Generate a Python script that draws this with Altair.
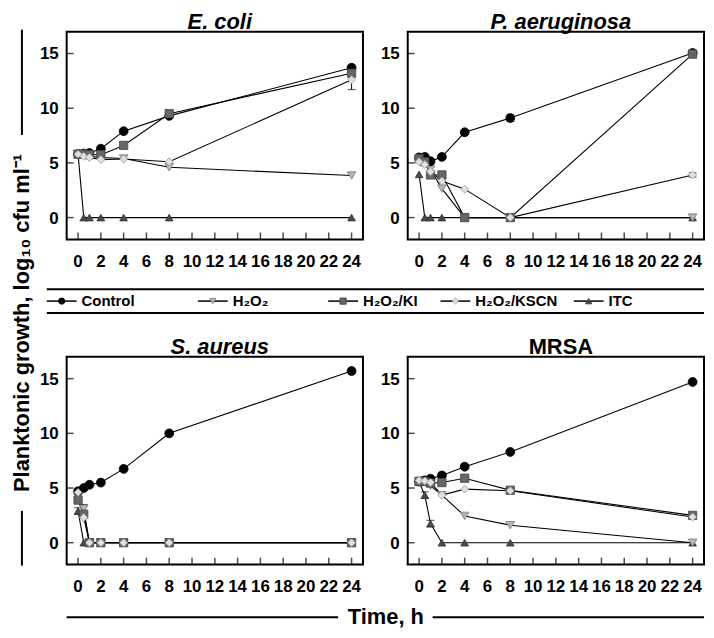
import altair as alt
import pandas as pd

# ---------------- data ----------------
TIMES = [0, 0.5, 1, 2, 4, 8, 24]

ECOLI_CONTROL = [5.8, 5.85, 5.9, 6.3, 7.9, 9.3, 13.7]
ECOLI_H2O2 = [5.8, 5.7, 5.6, 5.5, 5.4, 4.6, 3.85]
ECOLI_KI = [5.8, 5.8, 5.75, 5.75, 6.6, 9.5, 13.2]
ECOLI_KSCN = [5.8, 5.6, 5.5, 5.3, 5.35, 5.1, 12.6]
ECOLI_ITC = [5.8, 0, 0, 0, 0, 0, 0]

PAER_CONTROL = [5.5, 5.55, 5.15, 5.55, 7.8, 9.1, 15.05]
PAER_H2O2 = [5.3, 5.0, 4.4, 2.65, 0, 0, 0]
PAER_KI = [5.4, 5.1, 3.9, 3.9, 0, 0, 14.95]
PAER_KSCN = [5.1, 4.85, 4.2, 3.35, 2.6, 0, 3.9]
PAER_ITC = [3.95, 0, 0, 0, 0, 0, 0]

SAUR_CONTROL = [4.7, 5.0, 5.3, 5.5, 6.75, 10.0, 15.7]
SAUR_H2O2 = [4.2, 3.1, 0, 0, 0, 0, 0]
SAUR_KI = [3.9, 2.6, 0, 0, 0, 0, 0]
SAUR_KSCN = [4.6, 2.3, 0, 0, 0, 0, 0]
SAUR_ITC = [2.9, 0, 0, 0, 0, 0, 0]

MRSA_CONTROL = [5.6, 5.7, 5.85, 6.15, 6.95, 8.3, 14.7]
MRSA_H2O2 = [5.6, 5.7, 5.2, 4.35, 2.45, 1.6, 0]
MRSA_KI = [5.6, 5.6, 5.45, 5.5, 5.9, 4.8, 2.5]
MRSA_KSCN = [5.7, 5.65, 5.5, 4.35, 4.9, 4.75, 2.35]
MRSA_ITC = [5.55, 4.35, 1.75, 0, 0, 0, 0]

# (panel, series, time, error)
ERRORS = [
    ("E. coli", "H2O2/KSCN", 24, 0.9),
    ("E. coli", "H2O2/KI", 24, 0.3),
    ("P. aeruginosa", "Control", 24, 0.25),
    ("P. aeruginosa", "Control", 8, 0.3),
    ("P. aeruginosa", "H2O2/KI", 2, 0.3),
    ("P. aeruginosa", "H2O2/KSCN", 24, 0.2),
    ("S. aureus", "ITC", 0, 0.3),
    ("S. aureus", "H2O2", 0, 0.3),
    ("S. aureus", "H2O2", 0.5, 0.4),
    ("MRSA", "ITC", 0.5, 0.3),
    ("MRSA", "ITC", 1, 0.3),
]

SERIES = ["Control", "H2O2", "H2O2/KI", "H2O2/KSCN", "ITC"]
LABELS = ["Control", "H\u2082O\u2082", "H\u2082O\u2082/KI", "H\u2082O\u2082/KSCN", "ITC"]
DRAW_ORDER = ["ITC", "H2O2", "Control", "H2O2/KI", "H2O2/KSCN"]

PANELS = [
    ("E. coli", True, [ECOLI_CONTROL, ECOLI_H2O2, ECOLI_KI, ECOLI_KSCN, ECOLI_ITC]),
    ("P. aeruginosa", True, [PAER_CONTROL, PAER_H2O2, PAER_KI, PAER_KSCN, PAER_ITC]),
    ("S. aureus", True, [SAUR_CONTROL, SAUR_H2O2, SAUR_KI, SAUR_KSCN, SAUR_ITC]),
    ("MRSA", False, [MRSA_CONTROL, MRSA_H2O2, MRSA_KI, MRSA_KSCN, MRSA_ITC]),
]

XTICKS = list(range(0, 25, 2))
YTICKS = [0, 5, 10, 15]
Y_TITLE = "Planktonic growth, log\u2081\u2080 cfu ml\u207b\u00b9"
X_TITLE = "Time, h"

# ---------------- styles ----------------
FONT = "Liberation Sans"
W, H = 298, 209
GAP = 45
LEG_H = 118
XT_H = 53
SHAPES = ["circle", "triangle-down", "square", "diamond", "triangle-up"]
FILLS = ["#000000", "#b4b4b4", "#666666", "#e0e0e0", "#4a4a4a"]
STROKES = ["#000000", "#7a7a7a", "#444444", "#9a9a9a", "#333333"]
SIZES = [80, 60, 60, 85, 60]

shape_scale = alt.Scale(domain=SERIES, range=SHAPES)
fill_scale = alt.Scale(domain=SERIES, range=FILLS)
stroke_scale = alt.Scale(domain=SERIES, range=STROKES)
size_scale = alt.Scale(domain=SERIES, range=SIZES)

xs = alt.Scale(domain=[-1, 25], nice=False, zero=False)
ys = alt.Scale(domain=[-2, 17], nice=False, zero=False)
one = pd.DataFrame({"a": [0]})
noview = alt.ViewBackground(stroke="transparent")


def X(f):
    return alt.X(f, scale=xs, axis=None)


def Y(f):
    return alt.Y(f, scale=ys, axis=None)


def panel(title, italic, series_values, extra=()):
    rows = []
    for s in DRAW_ORDER:
        vals = series_values[SERIES.index(s)]
        for t, v in zip(TIMES, vals):
            rows.append({"series": s, "t": t, "v": v})
    df = pd.DataFrame(rows)

    erows = []
    for (p, s, t, e) in ERRORS:
        if p == title:
            v = series_values[SERIES.index(s)][TIMES.index(t)]
            erows.append({"series": s, "t": t, "lo": v - e, "hi": v + e})
    edf = pd.DataFrame(erows, columns=["series", "t", "lo", "hi"])

    lines = alt.Chart(df).mark_line(color="black", strokeWidth=1.1).encode(
        x=X("t:Q"), y=Y("v:Q"), detail="series:N", order="t:Q")

    err_rule = alt.Chart(edf).mark_rule(color="black", strokeWidth=1).encode(
        x=X("t:Q"), y=Y("lo:Q"), y2="hi:Q")
    cap_lo = alt.Chart(edf).mark_tick(orient="horizontal", color="black",
                                      thickness=1, size=8).encode(x=X("t:Q"), y=Y("lo:Q"))
    cap_hi = alt.Chart(edf).mark_tick(orient="horizontal", color="black",
                                      thickness=1, size=8).encode(x=X("t:Q"), y=Y("hi:Q"))

    points = alt.Chart(df).mark_point(filled=True, opacity=1, strokeWidth=0.8).encode(
        x=X("t:Q"), y=Y("v:Q"),
        shape=alt.Shape("series:N", scale=shape_scale, legend=None),
        fill=alt.Fill("series:N", scale=fill_scale, legend=None),
        stroke=alt.Stroke("series:N", scale=stroke_scale, legend=None),
        size=alt.Size("series:O", scale=size_scale, legend=None),
    )

    xdf = pd.DataFrame({"t": XTICKS, "lab": [str(v) for v in XTICKS]})
    ydf = pd.DataFrame({"v": YTICKS, "lab": [str(v) for v in YTICKS]})
    xt = alt.Chart(xdf).mark_tick(orient="vertical", color="black",
                                  thickness=1.5, size=7).encode(
        x=X("t:Q"), y=alt.value(H - 3.5))
    yt = alt.Chart(ydf).mark_tick(orient="horizontal", color="black",
                                  thickness=1.5, size=7).encode(
        y=Y("v:Q"), x=alt.value(3.5))
    xl = alt.Chart(xdf).mark_text(font=FONT, fontSize=17, fontWeight="bold",
                                  color="black", baseline="alphabetic",
                                  align="center").encode(
        x=X("t:Q"), y=alt.value(H + 28), text="lab:N")
    yl = alt.Chart(ydf).mark_text(font=FONT, fontSize=17, fontWeight="bold",
                                  color="black", baseline="alphabetic",
                                  align="right", dy=6).encode(
        y=Y("v:Q"), x=alt.value(-8), text="lab:N")
    tt = alt.Chart(pd.DataFrame({"title": [title]})).mark_text(
        font=FONT, fontSize=22, fontWeight="bold",
        fontStyle="italic" if italic else "normal", color="black",
        baseline="alphabetic", align="center").encode(
        text="title:N", x=alt.value(W / 2 + 5), y=alt.value(-3))

    return alt.layer(lines, err_rule, cap_lo, cap_hi, points, xt, yt, xl, yl, tt,
                     *extra).properties(width=W, height=H)


# ---------------- y title (drawn in the first panel's frame of reference) ----------------
YT_X = -45
YT_CENTER = 293
ytitle_layers = (
    alt.Chart(pd.DataFrame({"label": [Y_TITLE]})).mark_text(
        font=FONT, fontSize=22, fontWeight="bold", color="black", angle=270,
        baseline="middle", align="center").encode(
        text="label:N", x=alt.value(YT_X), y=alt.value(YT_CENTER)),
    alt.Chart(one).mark_rule(color="black", strokeWidth=2).encode(
        x=alt.value(YT_X), y=alt.value(-2), y2=alt.value(104)),
    alt.Chart(one).mark_rule(color="black", strokeWidth=2).encode(
        x=alt.value(YT_X), y=alt.value(482), y2=alt.value(2 * H + LEG_H + 1)),
)

# ---------------- legend strip ----------------
LEG_MARKER_X = [60, 212, 343, 456, 590]  # image x of the legend symbols
ORIGIN_X = 65
leg_df = pd.DataFrame({
    "series": SERIES,
    "label": LABELS,
    "mx": [v - ORIGIN_X for v in LEG_MARKER_X],
})
leg_df["x1"] = leg_df["mx"] - 15
leg_df["x2"] = leg_df["mx"] + 15
leg_df["tx"] = leg_df["mx"] + 20
LEG_Y = 62

leg_seg = alt.Chart(leg_df).mark_rule(color="black", strokeWidth=1.5).encode(
    x=alt.X("x1:Q", scale=None), x2="x2:Q", y=alt.value(LEG_Y))
leg_pts = alt.Chart(leg_df).mark_point(filled=True, opacity=1, strokeWidth=0.8).encode(
    x=alt.X("mx:Q", scale=None), y=alt.value(LEG_Y),
    shape=alt.Shape("series:N", scale=shape_scale, legend=None),
    fill=alt.Fill("series:N", scale=fill_scale, legend=None),
    stroke=alt.Stroke("series:N", scale=stroke_scale, legend=None),
    size=alt.value(40))
leg_txt = alt.Chart(leg_df).mark_text(align="left", baseline="middle", font=FONT,
                                      fontSize=15, fontWeight="bold", color="black").encode(
    x=alt.X("tx:Q", scale=None), y=alt.value(LEG_Y), text="label:N")
leg_top = alt.Chart(one).mark_rule(color="black", strokeWidth=2).encode(
    x=alt.value(-20), x2=alt.value(2 * W + GAP), y=alt.value(50))
leg_bot = alt.Chart(one).mark_rule(color="black", strokeWidth=2).encode(
    x=alt.value(-20), x2=alt.value(2 * W + GAP), y=alt.value(74))
legend = alt.layer(leg_top, leg_bot, leg_seg, leg_pts, leg_txt).properties(
    width=W, height=LEG_H, view=noview)

# ---------------- x title strip ----------------
xtitle = alt.layer(
    alt.Chart(pd.DataFrame({"label": [X_TITLE]})).mark_text(
        font=FONT, fontSize=22, fontWeight="bold", color="black",
        baseline="middle").encode(
        text="label:N", x=alt.value(321), y=alt.value(XT_H)),
    alt.Chart(one).mark_rule(color="black", strokeWidth=2).encode(
        x=alt.value(0), x2=alt.value(273), y=alt.value(XT_H)),
    alt.Chart(one).mark_rule(color="black", strokeWidth=2).encode(
        x=alt.value(368), x2=alt.value(2 * W + GAP), y=alt.value(XT_H)),
).properties(width=W, height=XT_H, view=noview)


def blank(h):
    return alt.Chart(one).mark_point(opacity=0).encode(
        x=alt.value(0), y=alt.value(0)).properties(width=W, height=h, view=noview)


p0 = panel(*PANELS[0], extra=ytitle_layers)
p1 = panel(*PANELS[1])
p2 = panel(*PANELS[2])
p3 = panel(*PANELS[3])

chart = alt.concat(
    p0, p1, legend, blank(LEG_H), p2, p3, xtitle, blank(XT_H),
    columns=2, spacing={"row": 0, "column": GAP}, bounds="flush",
).properties(
    padding={"left": 2, "top": 0, "right": 0, "bottom": 0},
    background="white",
).configure_view(stroke="black", strokeWidth=2)

chart.save("out.html", embed_options={"renderer": "svg", "actions": False})
